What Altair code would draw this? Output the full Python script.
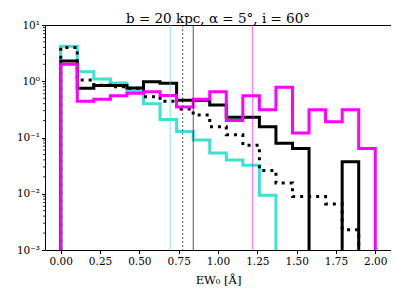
import altair as alt
import numpy as np
import pandas as pd

# 19 equal bins spanning 0 .. 2.0 Angstrom
bin_edges = list(np.linspace(0.0, 2.0, 20))

# normalised histogram heights (per bin)
cyan_vals = [4.2, 1.47, 1.1, 0.93, 0.67, 0.4, 0.21, 0.128, 0.09, 0.053, 0.04, 0.032, 0.0094,
             0, 0, 0, 0, 0, 0]
black_vals = [2.3, 0.75, 0.84, 0.84, 0.76, 0.98, 0.92, 0.46, 0.46, 0.38, 0.23, 0.23, 0.155,
              0.079, 0.064, 0, 0, 0.037, 0]
dotted_vals = [4.0, 1.05, 0.85, 0.8, 0.75, 0.53, 0.44, 0.32, 0.25, 0.155, 0.112, 0.073, 0.026,
               0.0155, 0.0089, 0.0089, 0.0066, 0.0023, 0]
magenta_vals = [2.0, 0.44, 0.48, 0.55, 0.61, 0.65, 0.56, 0.35, 0.48, 0.65, 0.2, 0.55, 0.31,
                0.78, 0.12, 0.31, 0.19, 0.31, 0.064]

# mean values (vertical lines)
vline_names = ["cyan", "dotted", "black", "magenta"]
vline_vals = [0.696, 0.775, 0.843, 1.22]

x_ticks = [0.0, 0.25, 0.5, 0.75, 1.0, 1.25, 1.5, 1.75, 2.0]
y_ticks = [1e-3, 1e-2, 1e-1, 1.0, 10.0]
y_tick_labels = ["10\u207b\u00b3", "10\u207b\u00b2", "10\u207b\u00b9", "10\u2070", "10\u00b9"]
minor_ticks = [m * 10.0 ** e for e in range(-3, 1) for m in range(2, 10)]

FLOOR = 1e-6
FONT = "DejaVu Serif"


def step_frame(name, heights):
    rows = [{"series": name, "i": 0, "x": bin_edges[0], "y": FLOOR}]
    for k, h in enumerate(heights):
        rows.append({"series": name, "i": k + 1, "x": bin_edges[k], "y": h if h > 0 else FLOOR})
    rows.append({"series": name, "i": len(heights) + 1, "x": bin_edges[-1], "y": FLOOR})
    return pd.DataFrame(rows)


xscale = alt.Scale(domain=[-0.1, 2.1], nice=False, zero=False)
yscale = alt.Scale(type="log", domain=[1e-3, 10], nice=False)

label_expr = "[" + ",".join("'%s'" % s for s in y_tick_labels) + "][round(log(datum.value)/LN10)+3]"

x_enc = alt.X("x:Q", scale=xscale,
              axis=alt.Axis(values=x_ticks, format=".2f", title="EW\u2080 [\u00c5]",
                            grid=False, domain=False, tickSize=3.5, tickColor="black",
                            labelFont=FONT, labelFontSize=10.5, labelColor="black",
                            labelPadding=3, titleFont=FONT, titleFontSize=11.5,
                            titleFontWeight="normal", titleColor="black", titlePadding=7))
y_enc = alt.Y("y:Q", scale=yscale,
              axis=alt.Axis(values=y_ticks, labelExpr=label_expr, title=None, grid=False,
                            domain=False, tickSize=3.5, tickColor="black",
                            labelFont=FONT, labelFontSize=10.5, labelColor="black",
                            labelPadding=2))


def hist_layer(name, heights, color, dash=None):
    kw = dict(interpolate="step-after", clip=True, strokeWidth=3, color=color)
    if dash:
        kw["strokeDash"] = dash
    return alt.Chart(step_frame(name, heights)).mark_line(**kw).encode(
        x=x_enc, y=y_enc, order="i:Q")


vdf = pd.DataFrame({"name": vline_names, "v": vline_vals})


def vline(name, color, dash=None):
    kw = dict(strokeWidth=1.3, color=color, opacity=0.5)
    if dash:
        kw["strokeDash"] = dash
    return alt.Chart(vdf[vdf["name"] == name]).mark_rule(**kw).encode(
        x=alt.X("v:Q", scale=xscale))


minor_df = pd.DataFrame({"y": minor_ticks})
minor = alt.Chart(minor_df).mark_rule(color="black", strokeWidth=0.8).encode(
    y=alt.Y("y:Q", scale=yscale), x=alt.value(0), x2=alt.value(-2))

chart = alt.layer(
    hist_layer("cyan", cyan_vals, "#40E0D0"),
    hist_layer("black", black_vals, "#000000"),
    hist_layer("dotted", dotted_vals, "#000000", [3, 5]),
    hist_layer("magenta", magenta_vals, "#FF00FF"),
    vline("cyan", "#40E0D0"),
    vline("dotted", "#000000", [2, 2]),
    vline("black", "#000000"),
    vline("magenta", "#FF00FF"),
    minor,
).properties(
    width=346, height=225,
    title=alt.TitleParams(text="b = 20 kpc, \u03b1 = 5\u00b0, i = 60\u00b0", font=FONT,
                          fontSize=13.5, fontWeight="normal", color="black", offset=5,
                          frame="group", dy=10),
    autosize=alt.AutoSizeParams(type="none"),
    padding={"left": 37, "top": 17, "right": 0, "bottom": 40},
).configure_view(stroke="black", strokeWidth=1)

chart.save("out.html", embed_options={"renderer": "svg", "actions": False})
